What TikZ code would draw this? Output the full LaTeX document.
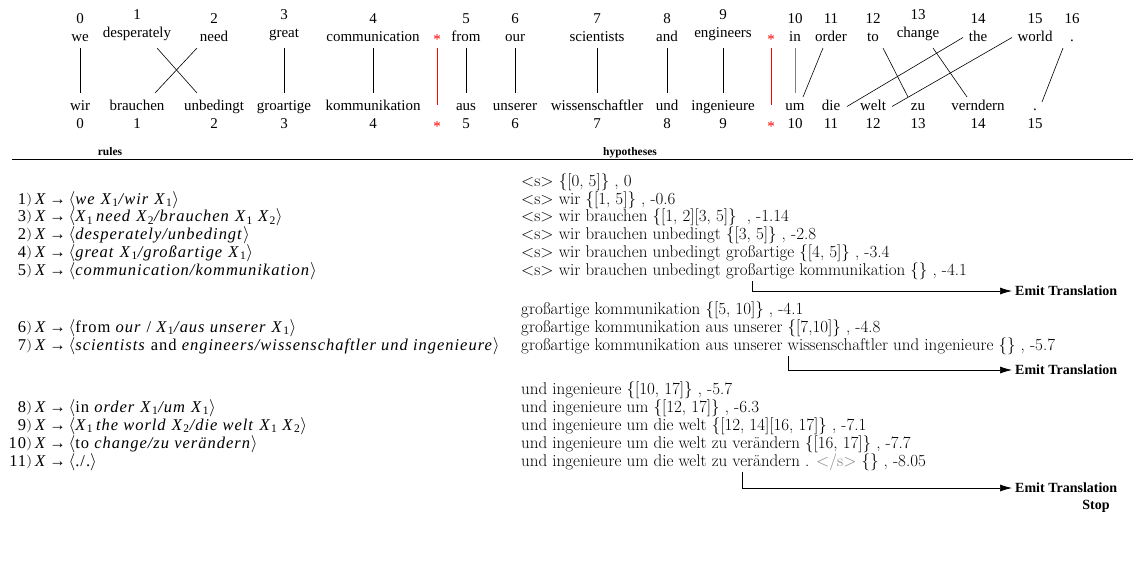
\documentclass[tikz,border=0pt]{standalone}
\usepackage{fontspec}
\usepackage{graphicx}
\newfontfamily\tms{Liberation Serif}
\newfontfamily\rlf[LetterSpace=6]{Liberation Serif}
\usetikzlibrary{arrows.meta}
\tikzset{
  tw/.style={anchor=base, inner sep=0pt, font=\tms\fontsize{15}{18}\selectfont, text height=11pt, text depth=4pt},
  ast/.style={tw, text=red},
  al/.style={line width=0.6pt},
  rl/.style={line width=0.8pt, red},
  hyp/.style={anchor=base west, inner sep=0pt, font=\fontsize{17}{20}\selectfont},
  rule/.style={anchor=base west, inner sep=0pt, font=\rlf\fontsize{16.5}{20}\selectfont},
  hdr/.style={anchor=base, inner sep=0pt, font=\tms\bfseries\fontsize{11.5}{13}\selectfont},
  emit/.style={anchor=west, inner sep=3pt, font=\tms\bfseries\fontsize{14}{16}\selectfont},
  earrow/.style={-{Latex[length=12pt,width=7pt]}, line width=0.7pt},
}
\newcommand{\rr}[2]{\makebox[20pt][r]{#1}\raisebox{0.1ex}{\scalebox{1}[0.8]{$\bigr)$}}\,\textit{X}\,→\,$\langle$#2$\rangle$}
\newcommand{\xs}[1]{\textit{X}\textsubscript{#1}}
\begin{document}
\begin{tikzpicture}[x=1pt,y=-1pt]
\fill[white] (0,0) rectangle (1133,566);
\useasboundingbox (0,0) rectangle (1133,566);
% top row
\foreach \x/\w/\n/\r in {80/we/0/0, 137/desperately/1/1, 214/need/2/0, 284/great/3/1, 373/communication/4/0, 466/from/5/0, 515/our/6/0, 597/scientists/7/0, 667/and/8/0, 723/engineers/9/1, 795/in/10/0, 831/order/11/0, 873/to/12/0, 918/change/13/1, 978/the/14/0, 1035/world/15/0, 1072/./16/0}{
  \node[tw] (t\n) at (\x,{41-3.5*\r}) {\w};
  \node[tw] (tn\n) at (\x,{23-3.5*\r}) {\n};
}
% bottom row
\foreach \x/\w/\n in {80/wir/0, 137/brauchen/1, 214/unbedingt/2, 284/groartige/3, 373/kommunikation/4, 466/aus/5, 515/unserer/6, 597/wissenschaftler/7, 667/und/8, 723/ingenieure/9, 795/um/10, 831/die/11, 873/welt/12, 918/zu/13, 978/verndern/14, 1035/./15}{
  \node[tw] (b\n) at (\x,110) {\w};
  \node[tw] (bn\n) at (\x,128) {\n};
}
\node[ast] (s1t) at (437,44.5) {*};
\node[ast] (s1b) at (437,131.5) {*};
\node[ast] (s2t) at (771,44.5) {*};
\node[ast] (s2b) at (771,131.5) {*};
\coordinate (tl) at (0,48);
\coordinate (bl) at (0,93);
\coordinate (bl2) at (0,97);
\coordinate (bl3) at (0,102);
\coordinate (rb) at (0,105);
\foreach \i in {0,3,4,5,6,7,8,9}{\draw[al] (t\i |- tl) -- (b\i |- bl);}
\draw[al,gray] (t10 |- tl) -- (b10 |- bl);
\draw[al] ([xshift=20pt]t1 |- tl) -- ([xshift=-17pt]b2 |- bl);
\draw[al] ([xshift=-17pt]t2 |- tl) -- ([xshift=18pt]b1 |- bl);
\draw[al] ([xshift=-8pt]t11 |- tl) -- ([xshift=8pt]b10 |- bl2);
\draw[al] ([xshift=10pt]t12 |- tl) -- ([xshift=-10pt]b13 |- bl2);
\draw[al] ([xshift=15pt]t13 |- tl) -- ([xshift=-11pt]b14 |- bl2);
\draw[al] ([xshift=-15pt]t14.center) -- ([xshift=16pt]b11.center);
\draw[al] ([xshift=-23pt]t15.center) -- ([xshift=19pt]b12.center);
\draw[al] ([xshift=-9pt]t16 |- tl) -- ([xshift=7pt]b15 |- bl3);
\draw[rl] (s1t |- tl) -- (s1b |- rb);
\draw[rl] (s2t |- tl) -- (s2b |- rb);
% headers
\node[hdr] (hr) at (110,155) {rules};
\node[hdr] (hh) at (630,155) {hypotheses};
\draw[line width=0.6pt] (12,159) -- (1133,159);
% hypotheses
\node[hyp] (h0) at (521,186) {$<$s$>$ \{[0, 5]\} , 0};
\node[hyp] (h1) at (521,204) {$<$s$>$ wir \{[1, 5]\} , -0.6};
\node[hyp] (h2) at (521,221.5) {$<$s$>$ wir brauchen \{[1, 2][3, 5]\}\ \ , -1.14};
\node[hyp] (h3) at (521,239) {$<$s$>$ wir brauchen unbedingt \{[3, 5]\} , -2.8};
\node[hyp] (h4) at (521,257) {$<$s$>$ wir brauchen unbedingt großartige \{[4, 5]\} , -3.4};
\node[hyp] (h5) at (521,275) {$<$s$>$ wir brauchen unbedingt großartige kommunikation \{\} , -4.1};
\node[hyp] (h6) at (521,314) {großartige kommunikation \{[5, 10]\} , -4.1};
\node[hyp] (h7) at (521,332) {großartige kommunikation aus unserer \{[7,10]\} , -4.8};
\node[hyp] (h8) at (521,350) {großartige kommunikation aus unserer wissenschaftler und ingenieure \{\} , -5.7};
\node[hyp] (h9) at (521,394) {und ingenieure \{[10, 17]\} , -5.7};
\node[hyp] (h10) at (521,412) {und ingenieure um \{[12, 17]\} , -6.3};
\node[hyp] (h11) at (521,430) {und ingenieure um die welt \{[12, 14][16, 17]\} , -7.1};
\node[hyp] (h12) at (521,448) {und ingenieure um die welt zu verändern \{[16, 17]\} , -7.7};
\node[hyp] (h13) at (521,466) {und ingenieure um die welt zu verändern . \textcolor{gray}{$<$/s$>$} \{\} , -8.05};
% rules
\node[rule] (r1) at (6,204) {\rr{1}{\textit{we} \xs{1}\textit{/wir} \xs{1}}};
\node[rule] (r3) at (6,221.5) {\rr{3}{\xs{1}\,\textit{need} \xs{2}\textit{/brauchen} \xs{1}\ \xs{2}}};
\node[rule] (r2) at (6,239) {\rr{2}{\textit{desperately/unbedingt}}};
\node[rule] (r4) at (6,257) {\rr{4}{\textit{great} \xs{1}\textit{/großartige} \xs{1}}};
\node[rule] (r5) at (6,275) {\rr{5}{\textit{communication/kommunikation}}};
\node[rule] (r6) at (6,332) {\rr{6}{from \textit{our} / \xs{1}\textit{/aus unserer} \xs{1}}};
\node[rule] (r7) at (6,350) {\rr{7}{\textit{scientists} and \textit{engineers/wissenschaftler und ingenieure}}};
\node[rule] (r8) at (6,412) {\rr{8}{in \textit{order} \xs{1}\textit{/um} \xs{1}}};
\node[rule] (r9) at (6,430) {\rr{9}{\xs{1}\,\textit{the world} \xs{2}\textit{/die welt} \xs{1}\ \xs{2}}};
\node[rule] (r10) at (6,448) {\rr{10}{to \textit{change/zu verändern}}};
\node[rule] (r11) at (6,466) {\rr{11}{./.}};
% emit arrows
\node[emit] (em1) at (1012,291) {Emit Translation};
\node[emit] (em2) at (1012,370) {Emit Translation};
\node[emit] (em3) at (1012,488) {Emit Translation};
\node[emit, anchor=center] (stop) at (1096,506) {Stop};
\coordinate (e1) at (752,281);
\coordinate (e2) at (788,356);
\coordinate (e3) at (742,472);
\draw[earrow] (e1) |- (em1);
\draw[earrow] (e2) |- (em2);
\draw[earrow] (e3) |- (em3);
\end{tikzpicture}
\end{document}
